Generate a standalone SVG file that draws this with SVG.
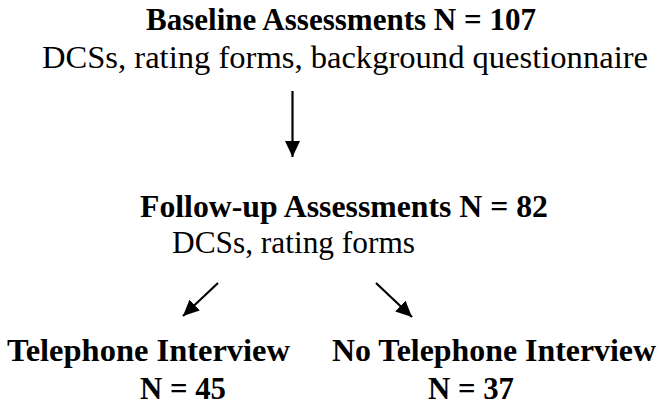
<svg xmlns="http://www.w3.org/2000/svg" width="660" height="405" viewBox="0 0 660 405">
<defs>
<style>
.b{font-family:"Liberation Serif","Times New Roman",serif;font-weight:bold;font-size:31.5px;fill:#000}
.r{font-family:"Liberation Serif","Times New Roman",serif;font-size:32.5px;fill:#000}
.c{stroke:#000;stroke-width:2.2;fill:none}
</style>
<marker id="ah" markerUnits="userSpaceOnUse" markerWidth="18" markerHeight="18" refX="16" refY="7.5" orient="auto">
<path d="M0,0 L16,7.5 L0,15 z" fill="#000"/>
</marker>
</defs>
<rect width="660" height="405" fill="#fff"/>
<g id="baseline">
<text class="b" x="146" y="30" textLength="390" lengthAdjust="spacingAndGlyphs">Baseline Assessments N = 107</text>
<text class="r" x="42" y="68" textLength="606" lengthAdjust="spacingAndGlyphs">DCSs, rating forms, background questionnaire</text>
</g>
<g id="followup">
<text class="b" x="140" y="217" textLength="408" lengthAdjust="spacingAndGlyphs">Follow-up Assessments N = 82</text>
<text class="r" x="172" y="253" textLength="243" lengthAdjust="spacingAndGlyphs">DCSs, rating forms</text>
</g>
<g id="telephone">
<text class="b" x="7" y="361" textLength="283" lengthAdjust="spacingAndGlyphs">Telephone Interview</text>
<text class="b" x="140" y="399" textLength="86" lengthAdjust="spacingAndGlyphs">N = 45</text>
</g>
<g id="notelephone">
<text class="b" x="332" y="361" textLength="324" lengthAdjust="spacingAndGlyphs">No Telephone Interview</text>
<text class="b" x="428" y="399" textLength="86" lengthAdjust="spacingAndGlyphs">N = 37</text>
</g>
<g id="connectors">
<line class="c" x1="292.5" y1="91" x2="292.5" y2="157" marker-end="url(#ah)"/>
<line class="c" x1="218" y1="283" x2="183" y2="316" marker-end="url(#ah)"/>
<line class="c" x1="376" y1="283" x2="412" y2="317" marker-end="url(#ah)"/>
</g>
</svg>
